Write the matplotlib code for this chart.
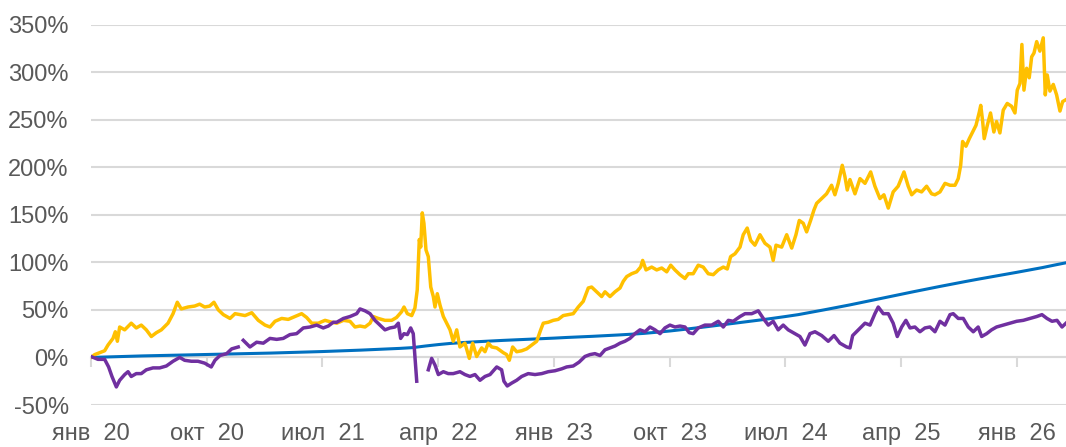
import numpy as np
import matplotlib
matplotlib.use("Agg")
import matplotlib.pyplot as plt

# time axis: months since January 2020
tick_months = [0, 9, 18, 27, 36, 45, 54, 63, 72]
tick_labels = ["янв  20", "окт  20", "июл  21", "апр  22", "янв  23",
               "окт  23", "июл  24", "апр  25", "янв  26"]
y_ticks = [-50, 0, 50, 100, 150, 200, 250, 300, 350]
y_labels = ["-50%", "0%", "50%", "100%", "150%", "200%", "250%", "300%", "350%"]

# yellow series, cumulative return, %
gold_t = [0.0, 0.29, 0.68, 1.06, 1.32, 1.71, 1.89, 2.05, 2.23, 2.62, 3.13, 3.52, 3.91, 4.30,
          4.69, 5.08, 5.47, 5.99, 6.38, 6.71, 7.02, 7.54, 8.06, 8.45, 8.84, 9.23, 9.56, 9.90,
          10.29, 10.81, 11.20, 11.59, 11.98, 12.50, 13.01, 13.53, 13.92, 14.31, 14.83, 15.34,
          15.86, 16.38, 16.77, 17.16, 17.68, 18.20, 18.72, 19.11, 19.63, 20.14, 20.53, 20.92,
          21.31, 21.70, 21.95, 22.34, 22.86, 23.38, 23.76, 24.15, 24.34, 24.60, 24.94, 25.19,
          25.37, 25.53, 25.64, 25.76, 25.89, 26.05, 26.23, 26.42, 26.62, 26.75, 26.93, 27.14,
          27.40, 27.66, 27.92, 28.17, 28.44, 28.69, 29.08, 29.42, 29.68, 29.99, 30.38, 30.64,
          30.89, 31.16, 31.55, 32.06, 32.32, 32.53, 32.79, 33.10, 33.49, 33.88, 34.27, 34.66,
          34.97, 35.17, 35.56, 35.95, 36.33, 36.72, 37.12, 37.50, 37.89, 38.28, 38.67, 38.93,
          39.32, 39.71, 39.97, 40.36, 40.75, 41.14, 41.39, 41.66, 42.04, 42.43, 42.74, 42.90,
          43.16, 43.60, 43.99, 44.38, 44.77, 45.08, 45.41, 45.80, 46.19, 46.45, 46.83, 47.22,
          47.61, 48.00, 48.39, 48.78, 49.17, 49.48, 49.74, 50.08, 50.47, 50.72, 51.03, 51.30,
          51.63, 52.02, 52.41, 52.80, 53.05, 53.27, 53.71, 54.10, 54.49, 54.82, 55.08, 55.39,
          55.65, 55.96, 56.22, 56.43, 56.81, 57.20, 57.59, 57.85, 58.11, 58.42, 58.63, 58.81,
          59.02, 59.41, 59.80, 60.19, 60.63, 60.96, 61.35, 61.66, 62.00, 62.38, 62.77, 63.22,
          63.55, 63.82, 64.20, 64.59, 64.98, 65.37, 65.63, 66.02, 66.41, 66.80, 67.19, 67.44,
          67.63, 67.78, 68.04, 68.30, 68.56, 68.82, 69.08, 69.19, 69.34, 69.46, 69.70, 69.95,
          70.21, 70.42, 70.68, 70.94, 71.25, 71.59, 71.85, 72.03, 72.24, 72.39, 72.55, 72.76,
          72.96, 73.15, 73.33, 73.54, 73.79, 74.05, 74.21, 74.36, 74.57, 74.83, 75.09, 75.35,
          75.56, 75.82]
gold_v = [0, 3, 5, 7, 13, 20, 27, 17, 32, 29, 36, 31, 34, 29,
          22, 26, 29, 36, 46, 58, 51, 53, 54, 56, 53, 54, 58, 50,
          45, 41, 46, 45, 44, 47, 39, 34, 32, 38, 41, 40,
          43, 46, 42, 36, 36, 39, 37, 36, 39, 38, 32, 33,
          32, 36, 43, 41, 39, 39, 42, 48, 53, 46, 44, 52,
          71, 124, 116, 152, 141, 113, 106, 74, 64, 53, 67, 55,
          43, 36, 29, 17, 29, 11, 15, -1, 15, 1, 10, 6,
          15, 11, 10, 5, 3, -3, 11, 6, 7, 9, 13, 17,
          29, 36, 37, 39, 40, 44, 45, 46, 53, 59, 73, 74,
          69, 64, 69, 64, 69, 73, 80, 85, 88, 90, 95, 102,
          92, 95, 92, 94, 90, 97, 92, 87, 83, 88, 88, 97,
          95, 88, 87, 92, 95, 93, 106, 109, 116, 129, 136, 123,
          118, 129, 120, 116, 102, 118, 116, 129, 115, 129, 144, 141,
          132, 144, 155, 162, 167, 172, 181, 171, 183, 202, 190, 176,
          187, 172, 188, 183, 195, 180, 167, 171, 157, 174, 180, 195,
          180, 171, 176, 174, 180, 172, 171, 174, 183, 181, 181, 188,
          202, 227, 222, 230, 237, 244, 258, 265, 248, 230, 244, 257,
          237, 248, 236, 260, 267, 264, 257, 281, 288, 329, 281, 304,
          294, 316, 320, 332, 322, 336, 276, 297, 280, 287, 276, 259,
          269, 271]

# purple series, cumulative return, % (nan = no trading)
nan = float("nan")
stock_t = [0.0, 0.54, 1.06, 1.37, 1.63, 1.97, 2.23, 2.62, 2.88, 3.13, 3.52, 3.91, 4.30, 4.82,
           5.34, 5.86, 6.38, 6.90, 7.28, 7.80, 8.32, 8.84, 9.35, 9.64, 10.03, 10.55, 10.94,
           11.45, 11.65, 11.84, 12.36, 12.88, 13.40, 13.92, 14.44, 14.95, 15.47, 15.99, 16.51,
           17.03, 17.55, 18.06, 18.45, 18.84, 19.11, 19.63, 20.14, 20.66, 20.92, 21.31, 21.70,
           22.08, 22.47, 22.86, 23.25, 23.64, 23.90, 24.08, 24.34, 24.60, 24.86, 25.06, 25.19,
           25.33, 25.80, 26.23, 26.49, 26.75, 27.01, 27.40, 27.78, 28.17, 28.69, 29.08, 29.47,
           29.86, 30.25, 30.64, 31.03, 31.55, 31.93, 32.11, 32.37, 32.71, 33.10, 33.49, 34.00,
           34.53, 35.05, 35.56, 36.08, 36.60, 36.99, 37.50, 37.95, 38.41, 38.80, 39.19, 39.58,
           39.97, 40.36, 40.75, 41.14, 41.52, 41.91, 42.30, 42.69, 43.08, 43.47, 43.86, 44.25,
           44.63, 45.02, 45.41, 45.80, 46.19, 46.52, 46.83, 47.22, 47.74, 48.27, 48.78, 49.17,
           49.56, 49.94, 50.47, 50.86, 51.38, 51.89, 52.28, 52.67, 53.05, 53.44, 53.83, 54.22,
           54.74, 55.13, 55.52, 55.91, 56.30, 56.82, 57.33, 57.78, 58.24, 58.76, 59.02, 59.23,
           59.67, 60.19, 60.58, 60.96, 61.22, 61.61, 62.00, 62.38, 62.70, 63.04, 63.37, 63.69,
           64.07, 64.46, 64.85, 65.24, 65.63, 66.02, 66.41, 66.80, 67.05, 67.44, 67.83, 68.22,
           68.61, 68.99, 69.26, 69.65, 70.03, 70.42, 70.94, 71.46, 71.98, 72.50, 73.02, 73.54,
           73.95, 74.34, 74.73, 75.12, 75.51, 75.82]
stock_v = [1, -2, -2, -10, -20, -31, -24, -18, -15, -20, -17, -17, -13, -11,
           -11, -9, -4, 0, -3, -4, -4, -6, -10, -3, 2, 4, 9,
           11, nan, 18, 11, 16, 15, 20, 19, 20, 24, 25, 31,
           32, 34, 31, 33, 37, 37, 41, 43, 46, 51, 49, 46,
           39, 34, 29, 31, 32, 36, 20, 25, 24, 31, 25, 1,
           -25, nan, -13, -1, -8, -18, -15, -17, -17, -15, -18, -20,
           -18, -24, -20, -18, -10, -13, -25, -30, -27, -24, -20, -17,
           -18, -17, -15, -14, -12, -10, -9, -5, 1, 3, 4, 2,
           8, 10, 12, 15, 17, 20, 25, 29, 27, 32, 29, 25,
           31, 34, 32, 33, 32, 26, 25, 31, 34, 34, 38, 32,
           39, 38, 43, 46, 46, 49, 41, 34, 38, 29, 34, 29,
           25, 22, 13, 25, 27, 23, 17, 23, 15, 11, 10, 23,
           29, 36, 34, 46, 53, 46, 46, 36, 22, 32, 39, 31,
           32, 27, 31, 32, 27, 38, 34, 45, 46, 41, 41, 32,
           27, 32, 22, 25, 29, 32, 34, 36, 38, 39, 41, 43,
           45, 41, 38, 39, 32, 36]

# blue series, monthly, %
deposit_t = list(range(76)) + [75.82]
deposit_v = [0, 0.4, 0.8, 1.2, 1.6, 1.9, 2.2, 2.5, 2.8, 3.1, 3.4, 3.7, 4.0, 4.3, 4.6, 5.0,
             5.4, 5.8, 6.2, 6.7, 7.2, 7.7, 8.3, 8.9, 9.5, 10.3, 12.0, 13.5, 14.8, 15.7, 16.5,
             17.2, 17.9, 18.5, 19.1, 19.7, 20.3, 21.0, 21.6, 22.2, 22.9, 23.6, 24.4, 25.3,
             26.5, 27.8, 29.3, 30.9, 32.5, 34.2, 35.9, 37.6, 39.3, 41.1, 43.0, 45.0, 47.5,
             50.0, 52.6, 55.2, 58.0, 60.8, 63.6, 66.4, 69.2, 71.9, 74.6, 77.2, 79.8, 82.3,
             84.7, 87.1, 89.5, 92.0, 94.5, 97.3, 99.5]

GRID = "#d9d9d9"
TEXT = "#595959"
plt.rcParams["font.family"] = ["Liberation Sans", "DejaVu Sans"]

fig = plt.figure(figsize=(10.66, 4.47), dpi=100)
ax = fig.add_axes([91 / 1066, 1 - 405 / 447, 975 / 1066, 380.5 / 447])

ax.plot(deposit_t, deposit_v, color="#0070C0", lw=2.2, zorder=3)
ax.plot(gold_t, gold_v, color="#FFC000", lw=2.5, zorder=4)
ax.plot(stock_t, stock_v, color="#7030A0", lw=2.5, zorder=5)

ax.set_xlim(0, 75.82)
ax.set_ylim(-50, 350)
ax.set_yticks(y_ticks, y_labels)
ax.grid(axis="y", color=GRID, lw=1.5, zorder=0)
ax.tick_params(axis="y", length=0, pad=16, labelsize=17, labelcolor=TEXT)
for side in ["left", "right", "top"]:
    ax.spines[side].set_visible(False)

# category axis crosses at 0% with small outward ticks, labels at the bottom
ax.spines["bottom"].set_position(("data", 0))
ax.spines["bottom"].set_color(GRID)
ax.spines["bottom"].set_linewidth(1.5)
ax.set_xticks(tick_months)
ax.tick_params(axis="x", direction="out", length=7, width=1.5, color=GRID, labelbottom=False)

sec = ax.secondary_xaxis(0)
sec.set_xticks(tick_months, tick_labels)
sec.tick_params(length=0, pad=13, labelsize=17, labelcolor=TEXT)
sec.spines["bottom"].set_visible(False)

fig.savefig("out.png", dpi=100)
